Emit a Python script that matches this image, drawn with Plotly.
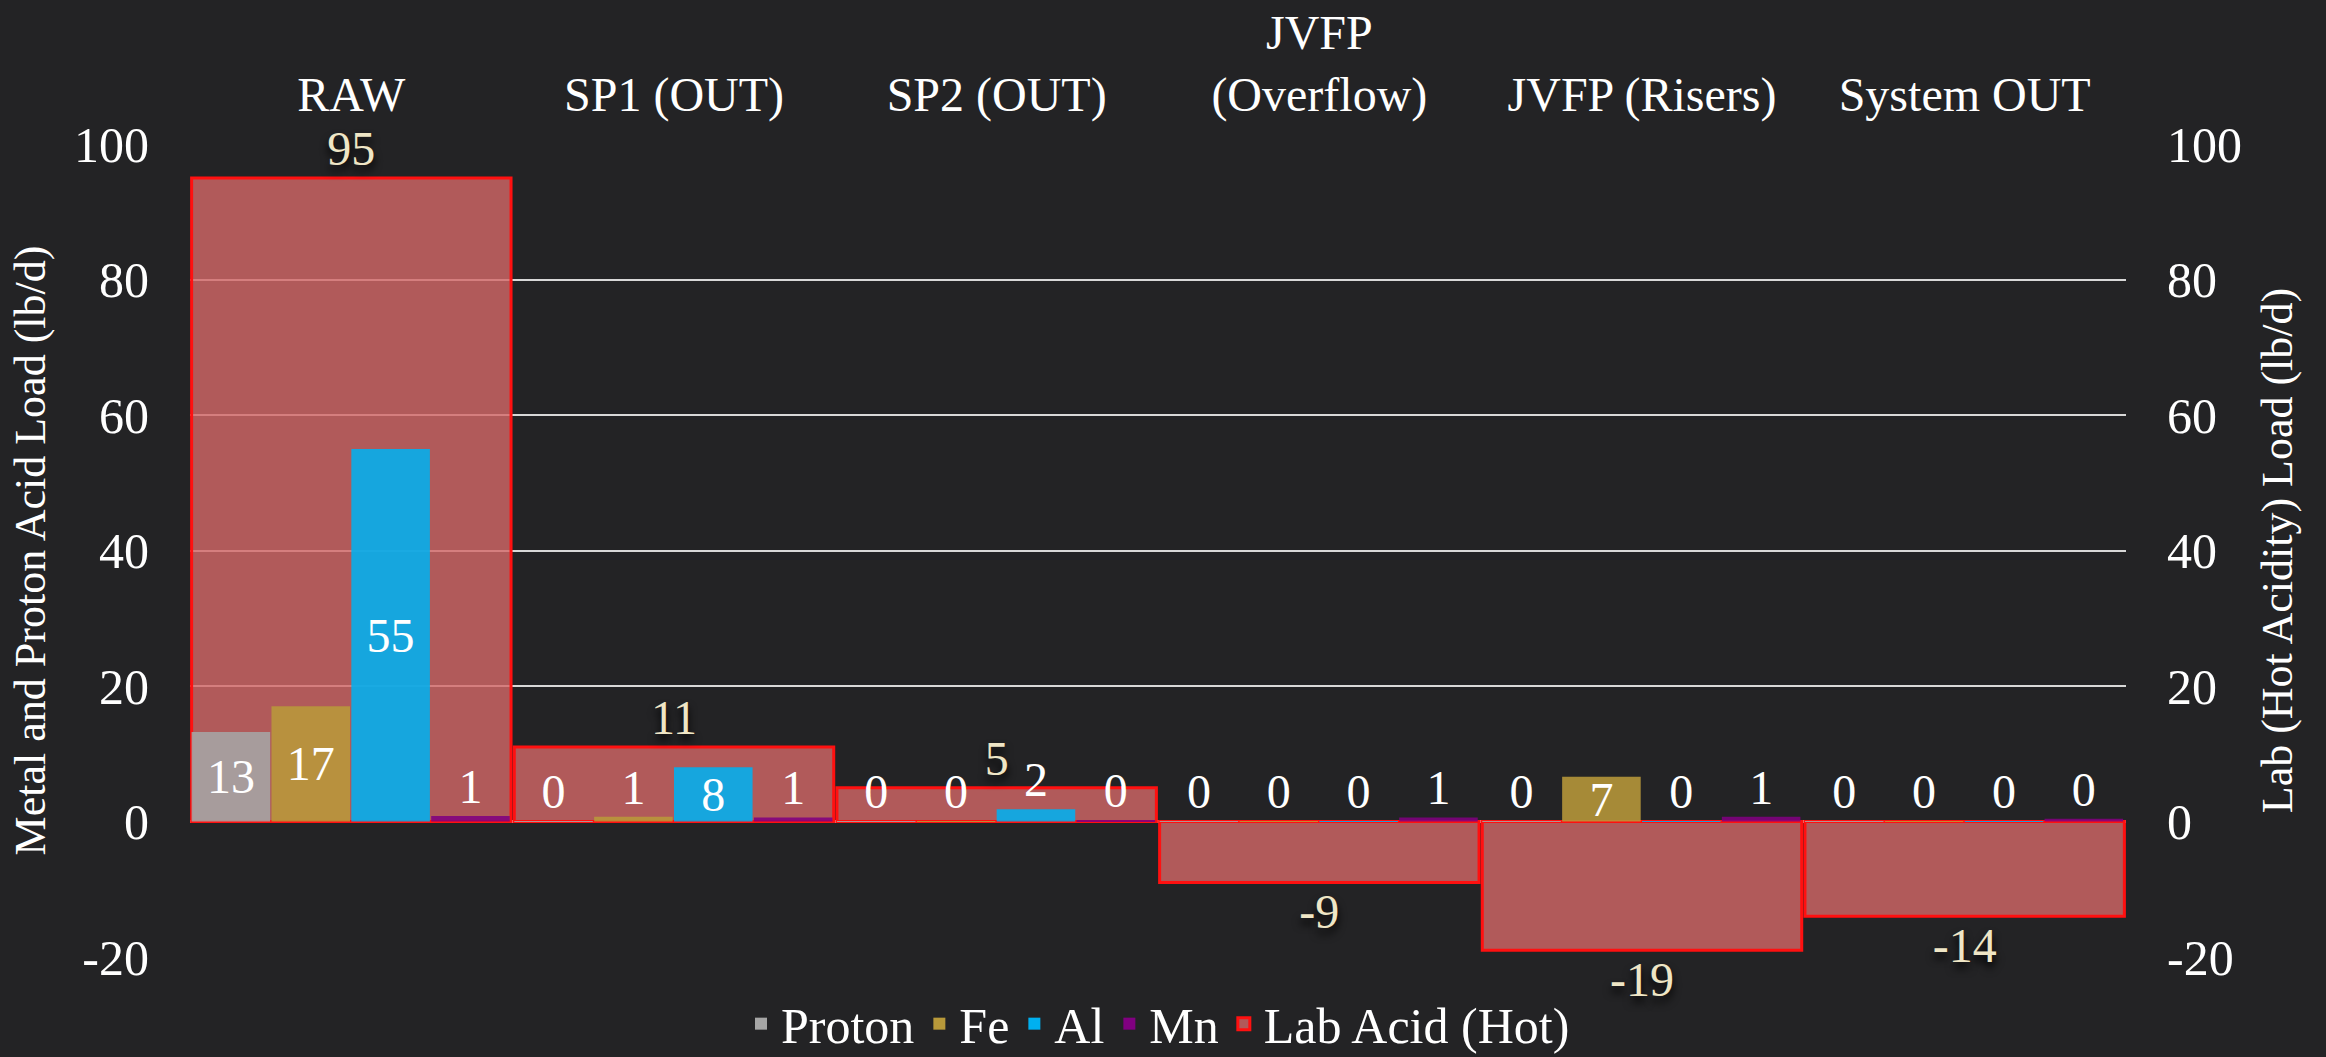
import plotly.graph_objects as go

categories = ["RAW", "SP1 (OUT)", "SP2 (OUT)", "JVFP<br>(Overflow)", "JVFP (Risers)", "System OUT"]
proton = [13.2, 0.05, 0.05, 0.05, 0.05, 0.05]
fe = [17.0, 0.7, 0.05, 0.05, 6.6, 0.05]
al = [55.0, 8.0, 1.8, 0.05, 0.05, 0.05]
mn = [0.8, 0.6, 0.1, 0.6, 0.7, 0.4]
lab_acid = [95, 11, 5, -9, -19, -14]
y_ticks = [-20, 0, 20, 40, 60, 80, 100]
y_tick_text = ["-20", "0", "20", "40", "60", "80", "100"]

FONT = "'Liberation Serif', 'Times New Roman', 'DejaVu Serif', serif"
BG = "#232325"
fig = go.Figure()

# Lab acid bars (secondary axis, drawn underneath the metal bars)
fig.add_trace(go.Bar(
    x=categories, y=lab_acid, name="Lab Acid (Hot)", yaxis="y2",
    width=0.99, offset=-0.495,
    marker=dict(color="rgba(212,104,104,0.80)", line=dict(color="#ff1010", width=3)),
    texttemplate="%{y:.0f}", textposition="outside", cliponaxis=False, textangle=0,
    textfont=dict(family=FONT, size=48, color="#efe6c6", shadow="0px 6px 8px #000000"),
))

metal_series = [("Proton", proton, "#a5a5a5"), ("Fe", fe, "#b8993a"),
                ("Al", al, "#00b0f0"), ("Mn", mn, "#800080")]
w = 0.2475
for i, (name, vals, col) in enumerate(metal_series):
    fig.add_trace(go.Bar(
        x=categories, y=vals, name=name, yaxis="y",
        width=w - 0.004, offset=-0.495 + i * w,
        marker=dict(color=col, opacity=0.88, line=dict(width=0)),
        texttemplate="%{y:.0f}", textposition="auto", insidetextanchor="middle",
        cliponaxis=False, textangle=0, constraintext="none",
        textfont=dict(family=FONT, size=48, color="#ffffff"),
    ))

axis_font = dict(family=FONT, size=50, color="#ffffff")
fig.update_layout(
    width=2326, height=1057,
    paper_bgcolor=BG, plot_bgcolor="rgba(0,0,0,0)",
    margin=dict(l=190, r=200, t=144, b=100, autoexpand=False),
    barmode="overlay",
    font=dict(family=FONT, color="#ffffff"),
    xaxis=dict(side="top", showgrid=False, showline=False, ticks="", automargin=False,
               tickfont=dict(family=FONT, size=48, color="#ffffff"), ticklabelstandoff=22),
    yaxis=dict(side="left", overlaying="y2", range=[-20, 100],
               tickvals=y_ticks, ticktext=y_tick_text, automargin=False,
               showgrid=True, gridcolor="#d8d8d8", gridwidth=2,
               zeroline=True, zerolinecolor="#e6e6e6", zerolinewidth=3,
               tickfont=axis_font, ticklabelstandoff=40,
               title=dict(text="Metal and Proton Acid Load (lb/d)",
                          font=dict(family=FONT, size=44, color="#ffffff"), standoff=14)),
    yaxis2=dict(side="right", anchor="x", range=[-20, 100],
                tickvals=y_ticks, ticktext=y_tick_text, automargin=False,
                showgrid=False, zeroline=False,
                tickfont=axis_font, ticklabelstandoff=40,
                title=dict(text="Lab (Hot Acidity) Load (lb/d)",
                           font=dict(family=FONT, size=44, color="#ffffff"), standoff=20)),
    legend=dict(orientation="h", x=0.5, xanchor="center", y=-0.082, yanchor="middle",
                font=dict(family=FONT, size=50, color="#ffffff"),
                traceorder="normal", bgcolor="rgba(0,0,0,0)"),
    showlegend=True,
)

# legend order: Proton, Fe, Al, Mn, Lab Acid (Hot)
fig.data[0].legendrank = 1005
for i in range(1, 5):
    fig.data[i].legendrank = 1000 + i

fig.write_html(
    "out.html",
    config={"displayModeBar": False},
    post_script="document.body.style.margin='0';document.body.style.background='" + BG + "';",
)
